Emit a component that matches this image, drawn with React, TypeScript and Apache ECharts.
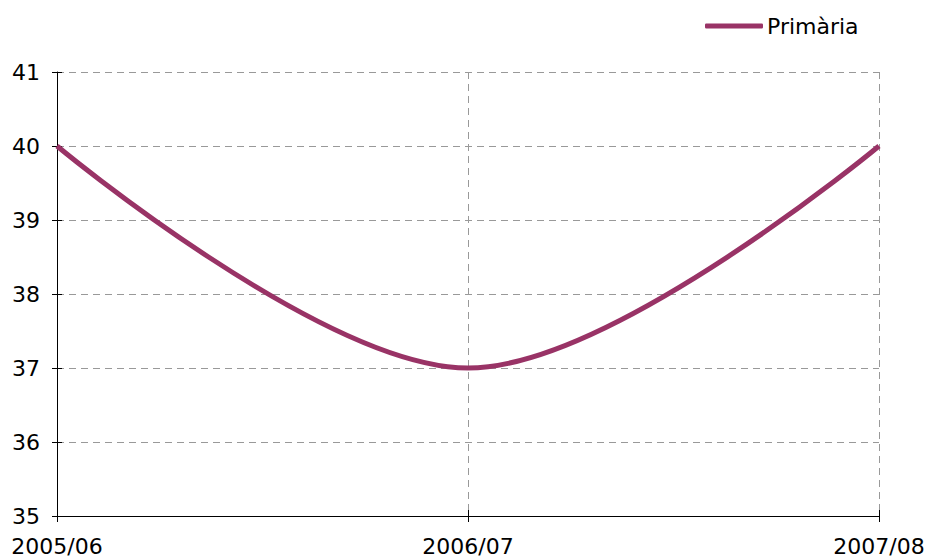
import React, { useEffect, useRef } from "react";
import * as echarts from "echarts";

const categories = ["2005/06", "2006/07", "2007/08"];
const primaria = [40, 37, 40];
const seriesName = "Primària";

export default function App() {
  const ref = useRef<HTMLDivElement>(null);
  useEffect(() => {
    if (!ref.current) return;
    const chart = echarts.init(ref.current, null, { renderer: "svg" });
    const font = "DejaVu Sans, Verdana, sans-serif";
    const grid = { left: 57, right: 50, top: 72, bottom: 42 };
    chart.setOption({
      animation: false,
      backgroundColor: "#ffffff",
      grid,
      legend: {
        data: [{ name: seriesName, icon: "roundRect" }],
        left: 700,
        top: 10,
        itemWidth: 58,
        itemHeight: 5,
        itemGap: 4,
        textStyle: { fontFamily: font, fontSize: 22, color: "#000", padding: [0, 0, 0, -1] },
      },
      xAxis: [
        {
          type: "category",
          data: categories,
          boundaryGap: false,
          axisLine: { lineStyle: { color: "#000", width: 1 } },
          axisTick: { show: true, length: 6, lineStyle: { color: "#000" } },
          axisLabel: { fontFamily: font, fontSize: 22, color: "#000", margin: 19, showMinLabel: true, showMaxLabel: true },
          splitLine: { show: true, lineStyle: { color: "#999", type: [7, 5], width: 1 } },
        },
        {
          type: "category",
          data: categories,
          boundaryGap: false,
          position: "bottom",
          axisLine: { show: false },
          axisTick: { show: true, inside: true, length: 6, lineStyle: { color: "#000" } },
          axisLabel: { show: false },
          splitLine: { show: false },
        },
      ],
      yAxis: [
        {
          type: "value",
          min: 35,
          max: 41,
          interval: 1,
          axisLine: { show: true, lineStyle: { color: "#000", width: 1 } },
          axisTick: { show: true, length: 5, lineStyle: { color: "#000" } },
          axisLabel: { fontFamily: font, fontSize: 22, color: "#000", margin: 17 },
          splitLine: { show: true, lineStyle: { color: "#999", type: [7, 5], width: 1 } },
        },
        {
          type: "value",
          min: 35,
          max: 41,
          interval: 1,
          position: "left",
          axisLine: { show: false },
          axisTick: { show: true, inside: true, length: 5, lineStyle: { color: "#000" } },
          axisLabel: { show: false },
          splitLine: { show: false },
        },
      ],
      series: [
        {
          name: seriesName,
          type: "line",
          data: primaria,
          smooth: 0.35,
          showSymbol: false,
          symbol: "none",
          itemStyle: { color: "#993366" },
          lineStyle: { color: "#993366", width: 5 },
        },
      ],
    });
    return () => chart.dispose();
  }, []);
  return <div ref={ref} style={{ width: 929, height: 558, position: "absolute", left: 0, top: 0 }} />;
}
